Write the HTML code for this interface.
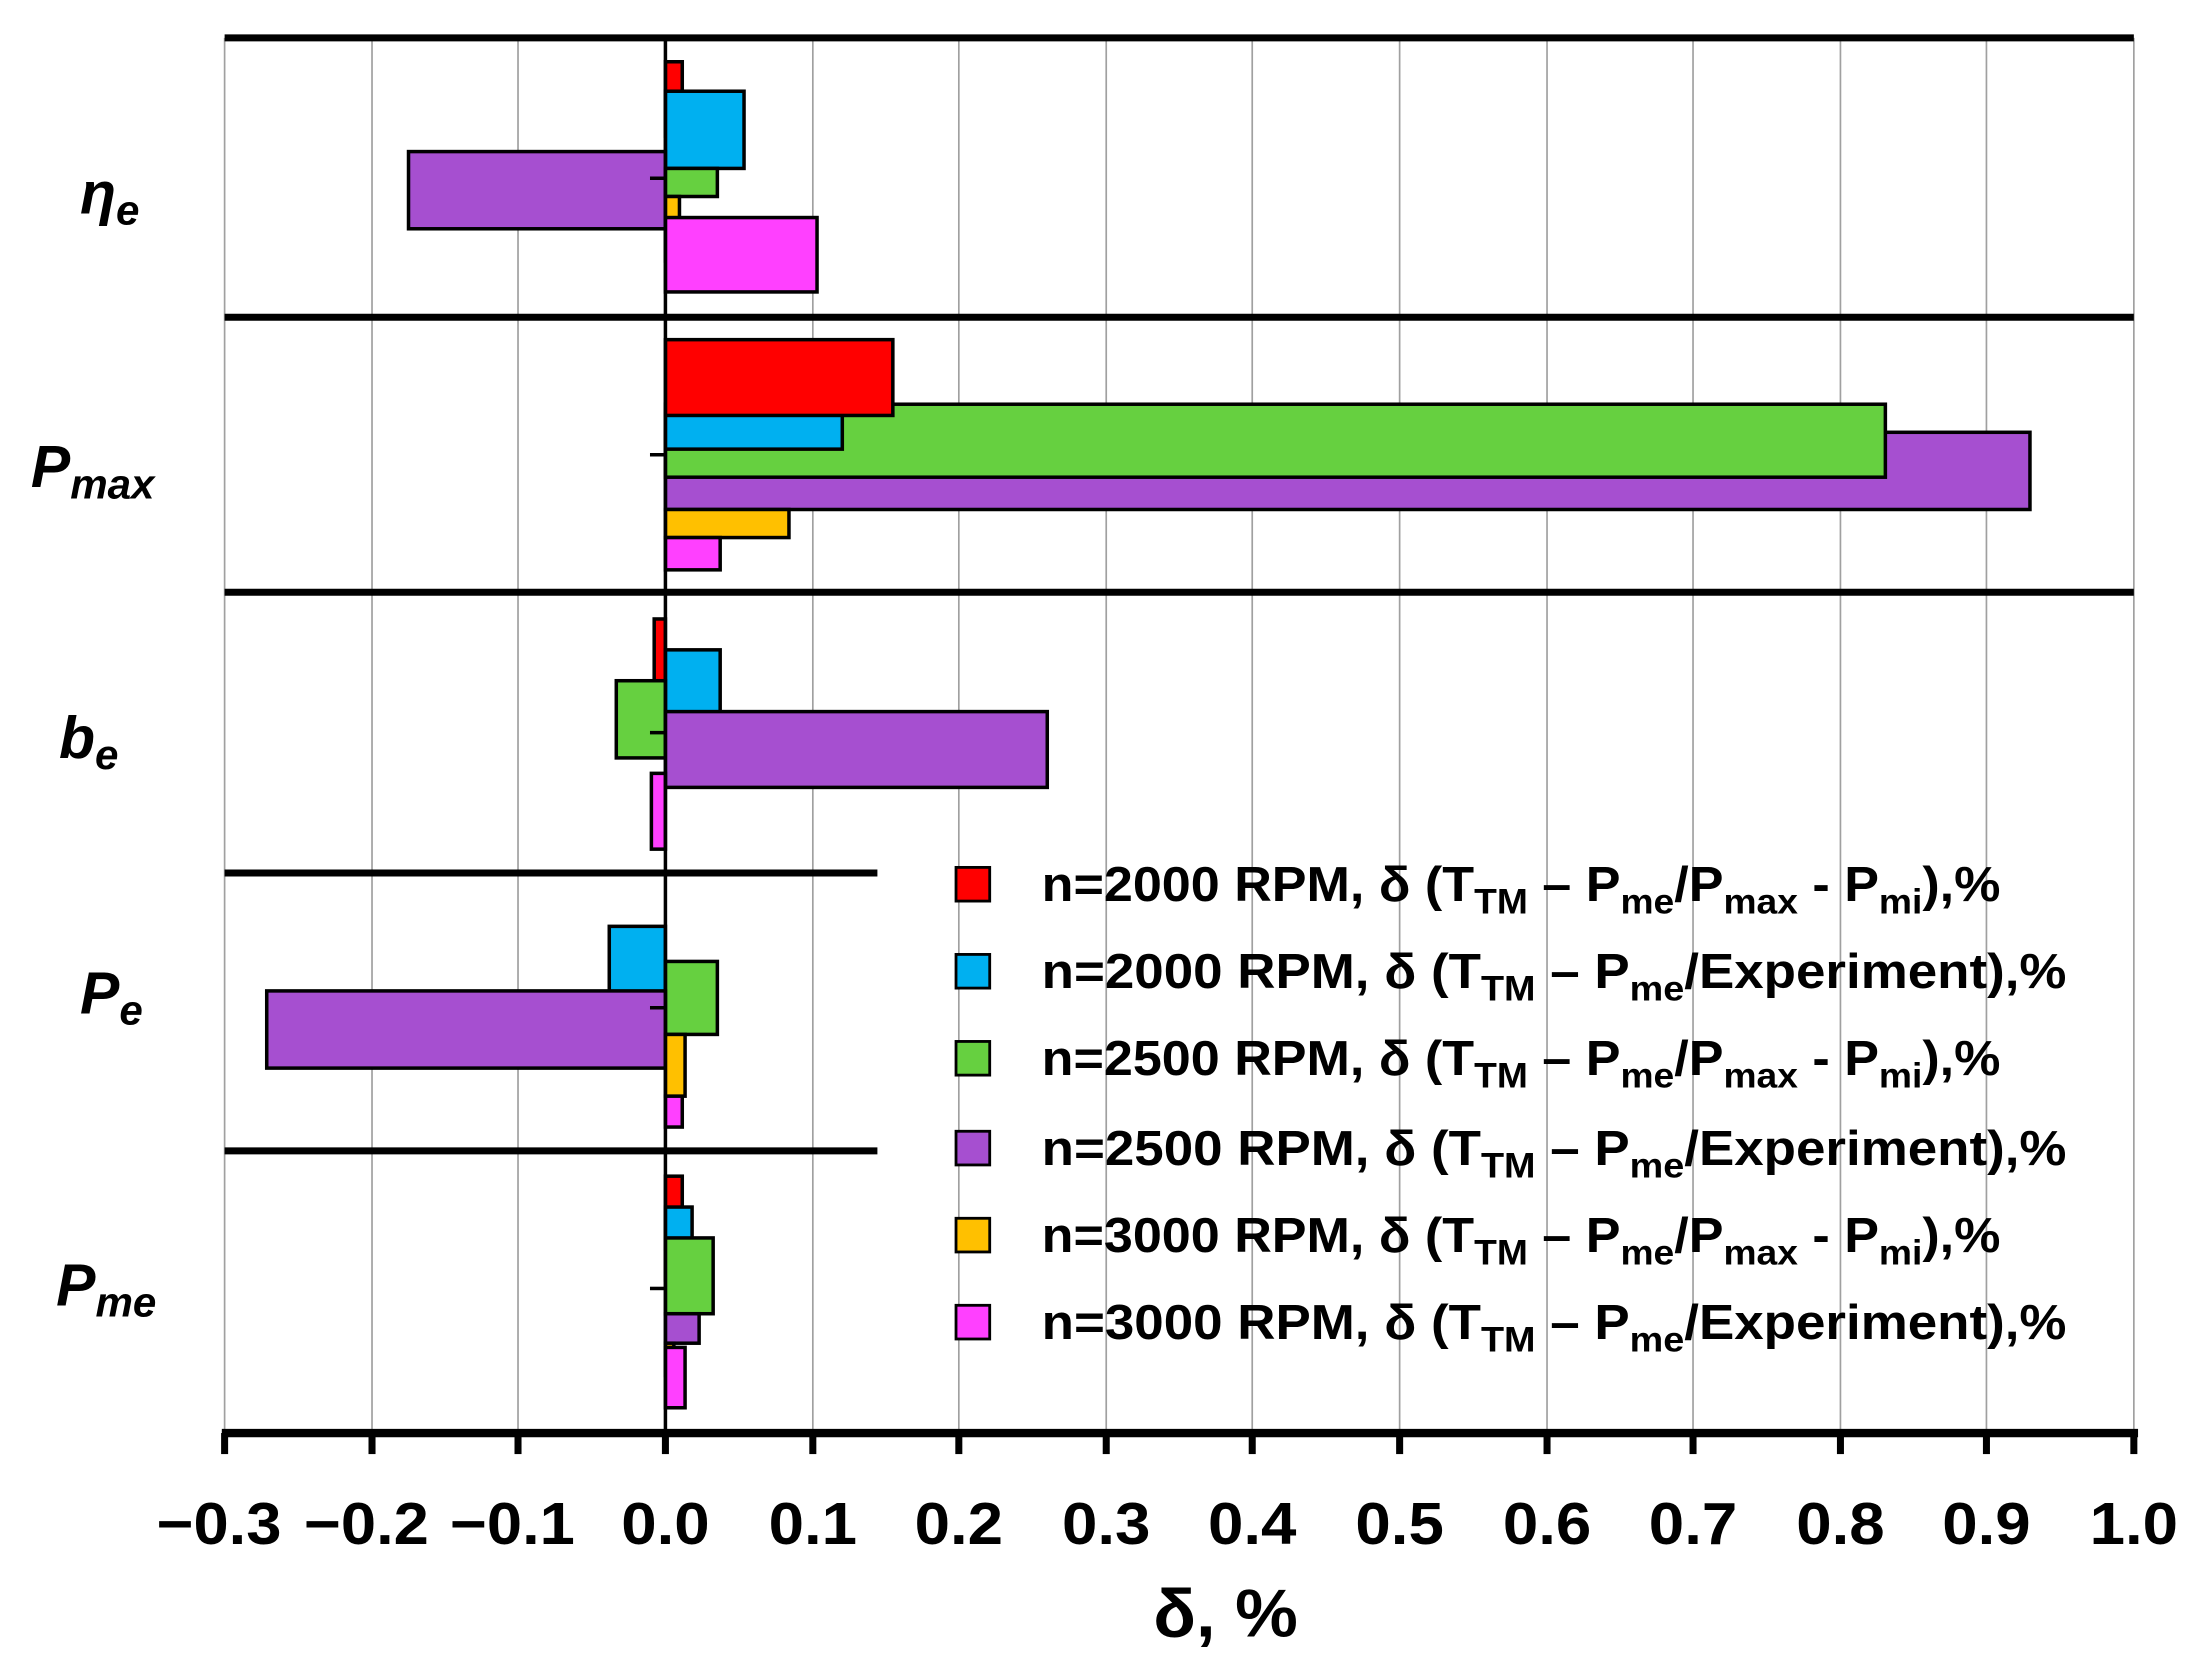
<!DOCTYPE html>
<html><head><meta charset="utf-8"><style>html,body{margin:0;padding:0;background:#fff}svg{display:block}</style></head>
<body>
<svg width="2190" height="1659" viewBox="0 0 1560 1182" preserveAspectRatio="none" xmlns="http://www.w3.org/2000/svg" font-family="Liberation Sans, sans-serif">
<g stroke="#a0a0a0" stroke-width="1.2">
<line x1="160" y1="27" x2="160" y2="1021"/><line x1="265" y1="27" x2="265" y2="1021"/><line x1="369" y1="27" x2="369" y2="1021"/>
<line x1="579" y1="27" x2="579" y2="1021"/><line x1="683" y1="27" x2="683" y2="1021"/><line x1="788" y1="27" x2="788" y2="1021"/>
<line x1="892" y1="27" x2="892" y2="1021"/><line x1="997" y1="27" x2="997" y2="1021"/><line x1="1102" y1="27" x2="1102" y2="1021"/>
<line x1="1206" y1="27" x2="1206" y2="1021"/><line x1="1311" y1="27" x2="1311" y2="1021"/><line x1="1415" y1="27" x2="1415" y2="1021"/>
<line x1="1520" y1="27" x2="1520" y2="1021"/>
</g>
<g stroke="#000" stroke-width="2.5">
<rect x="474" y="44" width="12" height="53" fill="#ff0000"/>
<rect x="474" y="65" width="56" height="55" fill="#00b0f0"/>
<rect x="291" y="108" width="183" height="55" fill="#a64fd0"/>
<rect x="474" y="120" width="37" height="20" fill="#66d040"/>
<rect x="474" y="140" width="10" height="46" fill="#ffc000"/>
<rect x="474" y="155" width="108" height="53" fill="#ff40ff"/>
<rect x="474" y="308" width="972" height="55" fill="#a64fd0"/>
<rect x="474" y="288" width="869" height="52" fill="#66d040"/>
<rect x="474" y="295" width="126" height="25" fill="#00b0f0"/>
<rect x="474" y="242" width="162" height="54" fill="#ff0000"/>
<rect x="474" y="363" width="88" height="20" fill="#ffc000"/>
<rect x="474" y="383" width="39" height="23" fill="#ff40ff"/>
<rect x="466" y="441" width="8" height="52" fill="#ff0000"/>
<rect x="474" y="463" width="39" height="53" fill="#00b0f0"/>
<rect x="439" y="485" width="35" height="55" fill="#66d040"/>
<rect x="474" y="507" width="272" height="54" fill="#a64fd0"/>
<rect x="464" y="551" width="10" height="54" fill="#ff40ff"/>
<rect x="434" y="660" width="40" height="56" fill="#00b0f0"/>
<rect x="474" y="685" width="37" height="52" fill="#66d040"/>
<rect x="190" y="706" width="284" height="55" fill="#a64fd0"/>
<rect x="474" y="737" width="14" height="44" fill="#ffc000"/>
<rect x="474" y="781" width="12" height="22" fill="#ff40ff"/>
<rect x="474" y="838" width="12" height="52" fill="#ff0000"/>
<rect x="474" y="860" width="19" height="52" fill="#00b0f0"/>
<rect x="474" y="882" width="34" height="54" fill="#66d040"/>
<rect x="474" y="936" width="24" height="21" fill="#a64fd0"/>
<rect x="474" y="957" width="6" height="23" fill="#ffc000"/>
<rect x="474" y="960" width="14" height="43" fill="#ff40ff"/>
</g>
<g stroke="#000">
<line x1="474" y1="27" x2="474" y2="1021" stroke-width="2.5"/>
<g stroke-width="2.5"><line x1="463" y1="127" x2="474" y2="127"/><line x1="463" y1="324" x2="474" y2="324"/><line x1="463" y1="522" x2="474" y2="522"/><line x1="463" y1="718" x2="474" y2="718"/><line x1="463" y1="918" x2="474" y2="918"/></g>
<g stroke-width="5">
<line x1="160" y1="27" x2="1520" y2="27"/><line x1="160" y1="226" x2="1520" y2="226"/><line x1="160" y1="422" x2="1520" y2="422"/>
<line x1="160" y1="622" x2="625" y2="622"/><line x1="160" y1="820" x2="625" y2="820"/>
<line x1="158" y1="1021" x2="1523" y2="1021" stroke-width="6"/>
<line x1="160" y1="1021" x2="160" y2="1036"/><line x1="265" y1="1021" x2="265" y2="1036"/><line x1="369" y1="1021" x2="369" y2="1036"/><line x1="474" y1="1021" x2="474" y2="1036"/>
<line x1="579" y1="1021" x2="579" y2="1036"/><line x1="683" y1="1021" x2="683" y2="1036"/><line x1="788" y1="1021" x2="788" y2="1036"/><line x1="892" y1="1021" x2="892" y2="1036"/>
<line x1="997" y1="1021" x2="997" y2="1036"/><line x1="1102" y1="1021" x2="1102" y2="1036"/><line x1="1206" y1="1021" x2="1206" y2="1036"/><line x1="1311" y1="1021" x2="1311" y2="1036"/>
<line x1="1415" y1="1021" x2="1415" y2="1036"/><line x1="1520" y1="1021" x2="1520" y2="1036"/>
</g>
</g>
<g font-size="42" font-weight="bold" text-anchor="middle" fill="#000">
<text x="156" y="1100" textLength="89" lengthAdjust="spacingAndGlyphs">−0.3</text><text x="261" y="1100" textLength="89" lengthAdjust="spacingAndGlyphs">−0.2</text><text x="365" y="1100" textLength="89" lengthAdjust="spacingAndGlyphs">−0.1</text><text x="474" y="1100" textLength="63" lengthAdjust="spacingAndGlyphs">0.0</text>
<text x="579" y="1100" textLength="63" lengthAdjust="spacingAndGlyphs">0.1</text><text x="683" y="1100" textLength="63" lengthAdjust="spacingAndGlyphs">0.2</text><text x="788" y="1100" textLength="63" lengthAdjust="spacingAndGlyphs">0.3</text><text x="892" y="1100" textLength="63" lengthAdjust="spacingAndGlyphs">0.4</text>
<text x="997" y="1100" textLength="63" lengthAdjust="spacingAndGlyphs">0.5</text><text x="1102" y="1100" textLength="63" lengthAdjust="spacingAndGlyphs">0.6</text><text x="1206" y="1100" textLength="63" lengthAdjust="spacingAndGlyphs">0.7</text><text x="1311" y="1100" textLength="63" lengthAdjust="spacingAndGlyphs">0.8</text>
<text x="1415" y="1100" textLength="63" lengthAdjust="spacingAndGlyphs">0.9</text><text x="1520" y="1100" textLength="63" lengthAdjust="spacingAndGlyphs">1.0</text>
<text x="873" y="1166" font-size="48" textLength="103" lengthAdjust="spacingAndGlyphs">δ, %</text>
</g>
<g font-size="42" font-weight="bold" font-style="italic" fill="#000">
<text x="57" y="152">η<tspan font-size="30" dy="8">e</tspan></text>
<text x="22" y="347">P<tspan font-size="30" dy="8">max</tspan></text>
<text x="42" y="540">b<tspan font-size="30" dy="8">e</tspan></text>
<text x="57" y="722">P<tspan font-size="30" dy="8">e</tspan></text>
<text x="40" y="930">P<tspan font-size="30" dy="8">me</tspan></text>
</g>
<g stroke="#000" stroke-width="2">
<rect x="681" y="618" width="24" height="24" fill="#ff0000"/>
<rect x="681" y="680" width="24" height="24" fill="#00b0f0"/>
<rect x="681" y="742" width="24" height="24" fill="#66d040"/>
<rect x="681" y="806" width="24" height="24" fill="#a64fd0"/>
<rect x="681" y="868" width="24" height="24" fill="#ffc000"/>
<rect x="681" y="930" width="24" height="24" fill="#ff40ff"/>
</g>
<g font-size="35" font-weight="bold" fill="#000" lengthAdjust="spacingAndGlyphs">
<text x="742" y="642" textLength="683" lengthAdjust="spacingAndGlyphs">n=2000 RPM, δ (T<tspan font-size="25" dy="9">TM</tspan><tspan dy="-9"> – P</tspan><tspan font-size="25" dy="9">me</tspan><tspan dy="-9">/P</tspan><tspan font-size="25" dy="9">max</tspan><tspan dy="-9"> - P</tspan><tspan font-size="25" dy="9">mi</tspan><tspan dy="-9">),%</tspan></text>
<text x="742" y="704" textLength="730" lengthAdjust="spacingAndGlyphs">n=2000 RPM, δ (T<tspan font-size="25" dy="9">TM</tspan><tspan dy="-9"> – P</tspan><tspan font-size="25" dy="9">me</tspan><tspan dy="-9">/Experiment),%</tspan></text>
<text x="742" y="766" textLength="683" lengthAdjust="spacingAndGlyphs">n=2500 RPM, δ (T<tspan font-size="25" dy="9">TM</tspan><tspan dy="-9"> – P</tspan><tspan font-size="25" dy="9">me</tspan><tspan dy="-9">/P</tspan><tspan font-size="25" dy="9">max</tspan><tspan dy="-9"> - P</tspan><tspan font-size="25" dy="9">mi</tspan><tspan dy="-9">),%</tspan></text>
<text x="742" y="830" textLength="730" lengthAdjust="spacingAndGlyphs">n=2500 RPM, δ (T<tspan font-size="25" dy="9">TM</tspan><tspan dy="-9"> – P</tspan><tspan font-size="25" dy="9">me</tspan><tspan dy="-9">/Experiment),%</tspan></text>
<text x="742" y="892" textLength="683" lengthAdjust="spacingAndGlyphs">n=3000 RPM, δ (T<tspan font-size="25" dy="9">TM</tspan><tspan dy="-9"> – P</tspan><tspan font-size="25" dy="9">me</tspan><tspan dy="-9">/P</tspan><tspan font-size="25" dy="9">max</tspan><tspan dy="-9"> - P</tspan><tspan font-size="25" dy="9">mi</tspan><tspan dy="-9">),%</tspan></text>
<text x="742" y="954" textLength="730" lengthAdjust="spacingAndGlyphs">n=3000 RPM, δ (T<tspan font-size="25" dy="9">TM</tspan><tspan dy="-9"> – P</tspan><tspan font-size="25" dy="9">me</tspan><tspan dy="-9">/Experiment),%</tspan></text>
</g>
</svg>
</body></html>
